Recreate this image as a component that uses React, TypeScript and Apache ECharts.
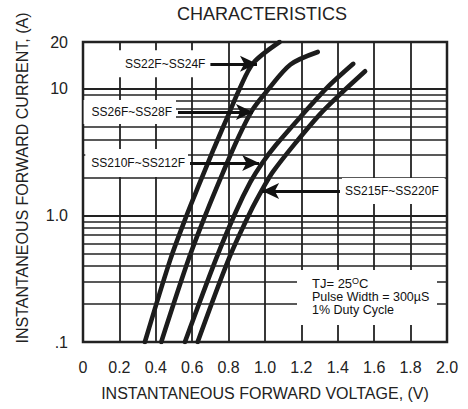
import React, { useEffect, useRef } from 'react';
import * as echarts from 'echarts';

const FONT = '"Liberation Sans", Arial, Helvetica, sans-serif';
const INK = '#1c1c1c';

// ---- texts ----
const chartTitle = 'CHARACTERISTICS';
const xAxisName = 'INSTANTANEOUS FORWARD VOLTAGE, (V)';
const yAxisName = 'INSTANTANEOUS FORWARD CURRENT, (A)';
const conditionLine1 = 'TJ= 25';
const conditionSup = 'O';
const conditionUnit = 'C';
const conditionLines = ['Pulse Width = 300µS', '1% Duty Cycle'];

// ---- axes ----
const voltageMin = 0;
const voltageMax = 2.0;
const voltageStep = 0.2;
const currentMin = 0.1;
const currentMax = 23.5;
const currentTickLabels = ['.1', '1.0', '10', '20'];
const minorCurrentLines = [0.2, 0.3, 0.4, 0.5, 0.6, 0.7, 0.8, 0.9, 2, 3, 4, 5, 6, 7, 8, 9];

// ---- series (V, A) ----
const curveNames = ['SS22F~SS24F', 'SS26F~SS28F', 'SS210F~SS212F', 'SS215F~SS220F'];
const vSS22 = [0.34, 0.48, 0.575, 0.63, 0.72, 0.8, 0.86, 0.935, 1.08];
const iSS22 = [0.1, 0.45, 1.05, 1.65, 3.4, 6.3, 10, 16, 23.5];
const vSS26 = [0.43, 0.58, 0.68, 0.77, 0.845, 0.93, 1.01, 1.14, 1.29];
const iSS26 = [0.1, 0.45, 1.07, 2.2, 3.9, 6.8, 9.6, 15.6, 19.6];
const vSS210 = [0.56, 0.73, 0.84, 0.92, 0.985, 1.06, 1.19, 1.34, 1.485];
const iSS210 = [0.1, 0.45, 1.07, 1.84, 2.6, 3.6, 5.9, 10.2, 15.8];
const vSS215 = [0.63, 0.8, 0.92, 1.0, 1.045, 1.16, 1.3, 1.41, 1.55];
const iSS215 = [0.1, 0.45, 1.07, 1.75, 2.23, 3.63, 6.27, 9.0, 13.8];

// ---- callout arrows (label end voltage, tip voltage, current level) ----
const arrowStartV = [0.7, 0.522, 0.588, 1.412];
const arrowTipV = [0.956, 0.934, 0.968, 0.984];
const arrowCurrent = [15.8, 6.57, 2.6, 1.56];

// label box paddings (style only)
const labelPads = [
  [7, 3, 8, 10],
  [6, 4, 6, 8],
  [8, 3, 8, 6],
  [7, 6, 7, 3],
];

const curves = [
  [vSS22, iSS22],
  [vSS26, iSS26],
  [vSS210, iSS210],
  [vSS215, iSS215],
];

function tickLabel(v: number): string {
  if (v > 15) return currentTickLabels[3];
  if (v > 5) return currentTickLabels[2];
  if (v > 0.5) return currentTickLabels[1];
  return currentTickLabels[0];
}

export default function App() {
  const ref = useRef<HTMLDivElement>(null);

  useEffect(() => {
    if (!ref.current) return;
    const chart = echarts.init(ref.current, null, { renderer: 'svg' });

    const curveSeries = curves.map(([vs, is], k) => ({
      type: 'line',
      name: curveNames[k],
      data: vs.map((v, i) => [v, is[i]]),
      showSymbol: false,
      smooth: 0.3,
      silent: true,
      z: 3,
      lineStyle: { color: INK, width: 4.6, cap: 'round' },
    }));

    const gridSeries = {
      type: 'line',
      data: [],
      silent: true,
      z: 1,
      markLine: {
        silent: true,
        symbol: 'none',
        label: { show: false },
        lineStyle: { color: '#222', width: 1.7, type: 'solid' },
        data: minorCurrentLines.map((v) => ({ yAxis: v })),
      },
    };

    const arrowSeries = {
      type: 'line',
      data: [],
      silent: true,
      z: 5,
      markLine: {
        silent: true,
        symbol: ['none', 'arrow'],
        symbolSize: [12, 17],
        lineStyle: { color: '#111', width: 3, type: 'solid' },
        label: {
          show: true,
          position: 'start',
          formatter: '{b}',
          fontFamily: FONT,
          fontSize: 12,
          color: '#111',
          backgroundColor: '#fff',
          distance: 2,
        },
        data: curveNames.map((name, k) => [
          {
            name,
            coord: [arrowStartV[k], arrowCurrent[k]],
            label: { padding: labelPads[k] },
          },
          { name, coord: [arrowTipV[k], arrowCurrent[k]] },
        ]),
      },
    };

    chart.setOption({
      animation: false,
      backgroundColor: '#fff',
      title: {
        text: chartTitle,
        left: 177,
        top: 5,
        padding: 0,
        textStyle: { fontFamily: FONT, fontSize: 18, fontWeight: 'normal', color: '#222' },
      },
      grid: {
        left: 83,
        right: 21,
        top: 42,
        bottom: 67,
        show: true,
        borderColor: '#222',
        borderWidth: 2.5,
        backgroundColor: '#fff',
      },
      xAxis: {
        type: 'value',
        min: voltageMin,
        max: voltageMax,
        interval: voltageStep,
        name: xAxisName,
        nameLocation: 'middle',
        nameGap: 43,
        nameTextStyle: { fontFamily: FONT, fontSize: 16, color: '#222' },
        axisLine: { show: false },
        axisTick: { show: false },
        splitLine: { show: true, lineStyle: { color: '#222', width: 1.8 } },
        axisLabel: {
          fontFamily: FONT,
          fontSize: 16,
          color: '#222',
          margin: 17,
          formatter: (v: number) => (v === 0 ? '0' : v.toFixed(1)),
        },
      },
      yAxis: {
        type: 'log',
        logBase: 10,
        min: currentMin,
        max: currentMax,
        name: yAxisName,
        nameLocation: 'middle',
        nameGap: 53,
        nameTextStyle: { fontFamily: FONT, fontSize: 16, color: '#222', padding: [0, 0, 0, 28] },
        axisLine: { show: false },
        axisTick: { show: false },
        splitLine: { show: true, lineStyle: { color: '#222', width: 1.8 } },
        axisLabel: {
          fontFamily: FONT,
          fontSize: 16,
          color: '#222',
          margin: 15,
          showMaxLabel: true,
          showMinLabel: true,
          formatter: (v: number) => tickLabel(v),
        },
      },
      graphic: [
        {
          type: 'rect',
          z: 50,
          silent: true,
          shape: { x: 297, y: 270, width: 140, height: 55 },
          style: { fill: '#fff' },
        },
        {
          type: 'text',
          z: 51,
          silent: true,
          x: 312,
          y: 276.5,
          style: {
            text:
              `{a|${conditionLine1}}{sup|${conditionSup}}{a|${conditionUnit}}\n` +
              conditionLines.map((t) => `{b|${t}}`).join('\n'),
            rich: {
              a: { fontFamily: FONT, fontSize: 13, lineHeight: 14, fill: '#111' },
              sup: { fontFamily: FONT, fontSize: 9, lineHeight: 4, verticalAlign: 'top', fill: '#111' },
              b: { fontFamily: FONT, fontSize: 12.5, lineHeight: 13, fill: '#111' },
            },
          },
        },
      ],
      series: [gridSeries, ...curveSeries, arrowSeries],
    });

    return () => chart.dispose();
  }, []);

  return (
    <div
      ref={ref}
      style={{ position: 'absolute', left: 0, top: 0, width: 468, height: 409 }}
    />
  );
}
